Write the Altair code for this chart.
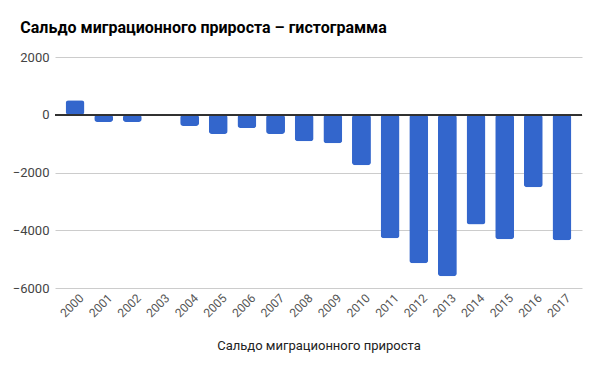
import altair as alt
import pandas as pd

years = [str(y) for y in range(2000, 2018)]
values = [500, -250, -250, 0, -390, -670, -460, -670, -920, -990, -1750,
          -4280, -5140, -5590, -3800, -4310, -2510, -4350]

df = pd.DataFrame({"year": years, "value": values})

FONT = "Roboto"

bars = alt.Chart(df).mark_bar(color="#3366cc", cornerRadius=3).encode(
    x=alt.X("year:N", sort=years,
            scale=alt.Scale(paddingInner=0.34, paddingOuter=0.37),
            axis=alt.Axis(title="Сальдо миграционного прироста", labelAngle=-45,
                          labelFont=FONT, labelFontSize=12, labelColor="#555",
                          labelOffset=3,
                          titleFont=FONT, titleFontSize=13, titleFontWeight="normal",
                          titleColor="#222", titlePadding=21,
                          domain=False, ticks=False, grid=False, labelPadding=4)),
    y=alt.Y("value:Q",
            scale=alt.Scale(domain=[-6000, 2000], nice=False),
            axis=alt.Axis(title=None, values=[-6000, -4000, -2000, 0, 2000],
                          format="d",
                          labelFont=FONT, labelFontSize=13, labelColor="#444",
                          domain=False, ticks=False, gridColor="#cccccc",
                          labelPadding=6)),
)

zero = alt.Chart(df).mark_rule(color="#333333", strokeWidth=1).encode(
    y=alt.datum(0)
)

chart = alt.layer(bars, zero).properties(
    width=527,
    height=231,
    title=alt.TitleParams("Сальдо миграционного прироста – гистограмма",
                          anchor="start", font=FONT, fontSize=16, fontWeight="bold",
                          color="#000", offset=15, dx=8),
    autosize=alt.AutoSizeParams(type="none"),
    padding={"left": 47, "top": 49, "right": 10, "bottom": 80},
).configure_view(stroke=None)

chart.save("out.html", embed_options={"renderer": "svg", "actions": False})
